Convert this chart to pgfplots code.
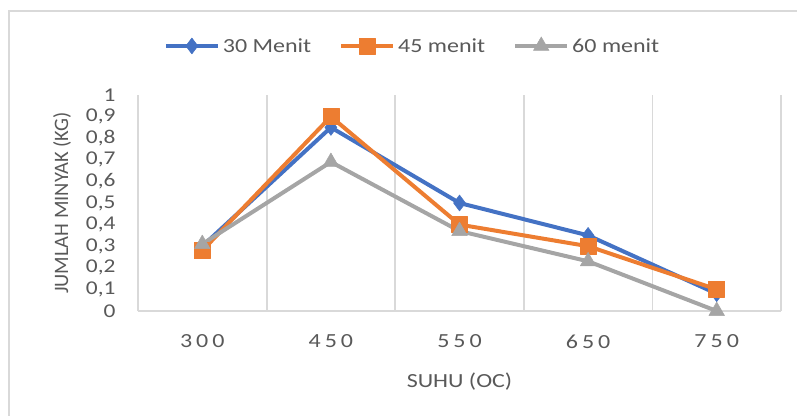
\documentclass[border=0pt]{standalone}
\usepackage{fontspec}
\setmainfont{Carlito}[FakeStretch=1.2]
\newfontfamily\spacedfont{Carlito}[LetterSpace=20,FakeStretch=1.2]
\newfontfamily\plainfont{Carlito}
\usepackage{pgfplots}
\pgfplotsset{compat=1.18}
\definecolor{cblue}{HTML}{4472C4}
\definecolor{corange}{HTML}{ED7D31}
\definecolor{cgray}{HTML}{A5A5A5}
\definecolor{gridgray}{HTML}{D9D9D9}
\definecolor{txt}{HTML}{595959}
\begin{document}
\begin{tikzpicture}[x=1pt,y=1pt]
\path[use as bounding box] (0,0) rectangle (797,415);
\draw[gridgray, line width=1.5pt] (9,-5) rectangle (805,404);
\begin{axis}[
  at={(138pt,104pt)}, anchor=south west,
  scale only axis, width=643pt, height=216pt,
  xmin=-0.5, xmax=4.5, ymin=0, ymax=1,
  clip=false,
  axis x line=bottom, axis y line=left,
  axis line style={-, draw=gridgray, line width=1.8pt},
  xtick={0,1,2,3,4},
  xticklabels={300,450,550,650,750},
  minor xtick={0.5,1.5,2.5,3.5,4.5},
  xminorgrids,
  minor grid style={draw=gridgray, line width=1.8pt},
  ytick={0,0.1,0.2,0.3,0.4,0.5,0.6,0.7,0.8,0.9,1},
  major tick length=0pt, minor tick length=0pt,
  /pgf/number format/assume math mode=true,
  /pgf/number format/use comma,
  /pgf/number format/fixed,
  yticklabel style={font=\fontsize{19.5}{19.5}\selectfont\color{txt}, xshift=-19pt},
  xticklabel style={font=\spacedfont\fontsize{20}{20}\selectfont\color{txt}, yshift=-20pt},
  xlabel={SUHU (OC)},
  ylabel={JUMLAH MINYAK (KG)},
  xlabel style={font=\fontsize{20}{20}\selectfont\color{txt}, yshift=-18pt},
  ylabel style={font=\plainfont\fontsize{20.5}{20.5}\selectfont\color{txt}, yshift=8pt},
  legend columns=3,
  legend style={at={(0.427,1.227)}, anchor=center, draw=none, fill=none,
    font=\fontsize{20}{20}\selectfont\color{txt},
    inner sep=0pt,
    /tikz/every odd column/.append style={column sep=1pt},
    /tikz/every even column/.append style={column sep=26pt}},
  legend image code/.code={\draw[mark repeat=2,mark phase=2,#1] plot coordinates {(0pt,0pt)(26pt,0pt)(52pt,0pt)};},
  every axis plot/.append style={line width=4pt, line join=round},
]
\addplot[cblue, mark=diamond*, mark size=8pt, mark options={solid, line width=0.5pt}]
  coordinates {(0,0.30) (1,0.85) (2,0.50) (3,0.35) (4,0.08)};
\addlegendentry{30 Menit}
\addplot[corange, mark=square*, mark size=8pt, mark options={solid, line width=0.5pt}]
  coordinates {(0,0.28) (1,0.90) (2,0.40) (3,0.30) (4,0.10)};
\addlegendentry{45 menit}
\addplot[cgray, mark=triangle*, mark size=9pt, mark options={solid, line width=0.5pt}]
  coordinates {(0,0.31) (1,0.69) (2,0.37) (3,0.23) (4,0.00)};
\addlegendentry{60 menit}
\end{axis}
\end{tikzpicture}
\end{document}
